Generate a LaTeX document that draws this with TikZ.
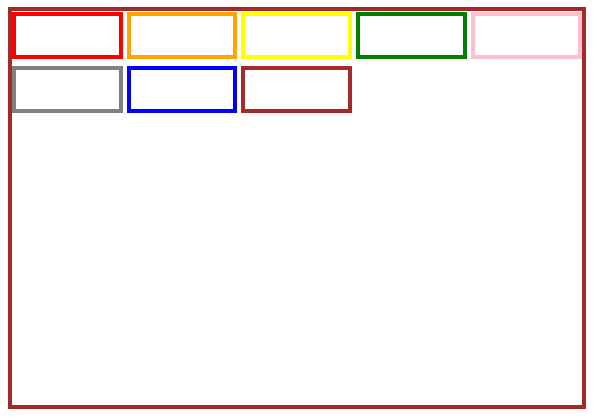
\documentclass[tikz,border=0pt]{standalone}
\usetikzlibrary{positioning}
\definecolor{cred}{HTML}{FF0000}
\definecolor{corange}{HTML}{FFA500}
\definecolor{cyellow}{HTML}{FFFF00}
\definecolor{cgreen}{HTML}{008000}
\definecolor{cpink}{HTML}{FFC0CB}
\definecolor{cgray}{HTML}{808080}
\definecolor{cblue}{HTML}{0000FF}
\definecolor{cbrown}{HTML}{A52A2A}
\begin{document}
\begin{tikzpicture}[x=1pt,y=-1pt,line width=4pt, box/.style={draw, minimum width=106.7pt, minimum height=43pt, inner sep=0pt, outer sep=0pt}, node distance=11pt and 8pt]
                    \useasboundingbox (0,0) rectangle (597,420);
                    \draw[cbrown] (10,9) rectangle (584,407);

                    \node[box, draw=cred, anchor=north west] (red) at (14,14) {};
                    \node[box, draw=corange, right=of red] (orange) {};
                    \node[box, draw=cyellow, right=of orange] (yellow) {};
                    \node[box, draw=cgreen, right=of yellow] (green) {};
                    \node[box, draw=cpink, right=of green] (pink) {};

                    \node[box, draw=cgray, below=of red] (gray) {};
                    \node[box, draw=cblue, right=of gray] (blue) {};
                    \node[box, draw=cbrown, right=of blue] (brown) {};
                \end{tikzpicture}
\end{document}
